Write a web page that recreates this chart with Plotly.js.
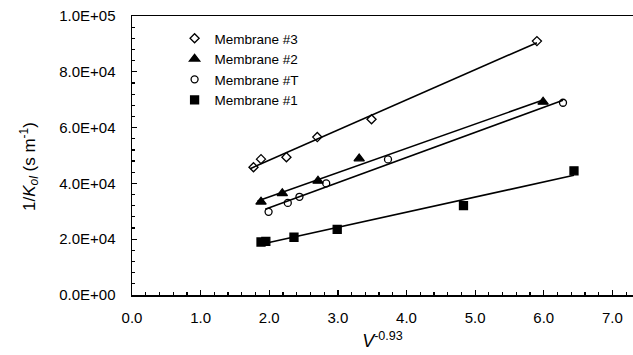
<!DOCTYPE html>
<html>
<head>
<meta charset="utf-8">
<script src="https://cdn.plot.ly/plotly-3.0.1.min.js"></script>
<style>html,body{margin:0;padding:0;background:#fff;}#chart{width:633px;height:355px;}</style>
</head>
<body>
<div id="chart"></div>
<script>
// Data
const seriesNames = ["Membrane #3", "Membrane #2", "Membrane #T", "Membrane #1"];
const m3_x = [1.77, 1.88, 2.25, 2.70, 3.49, 5.90];
const m3_y = [45800, 48700, 49400, 56600, 63000, 91000];
const m2_x = [1.88, 2.19, 2.71, 3.31, 5.99];
const m2_y = [33400, 36400, 40900, 48900, 69200];
const mT_x = [1.99, 2.27, 2.44, 2.83, 3.73, 6.28];
const mT_y = [29800, 33000, 35200, 40000, 48600, 68900];
const m1_x = [1.88, 1.95, 2.36, 2.99, 4.83, 6.44];
const m1_y = [19000, 19200, 20700, 23500, 32000, 44500];
const yTickVals = [0, 20000, 40000, 60000, 80000, 100000];
const yTickText = ["0.0E+00", "2.0E+04", "4.0E+04", "6.0E+04", "8.0E+04", "1.0E+05"];
const xTickVals = [0, 1, 2, 3, 4, 5, 6, 7];
const xTickText = ["0.0", "1.0", "2.0", "3.0", "4.0", "5.0", "6.0", "7.0"];

function fitLine(xs, ys) {
  const n = xs.length;
  const mx = xs.reduce((a, b) => a + b, 0) / n;
  const my = ys.reduce((a, b) => a + b, 0) / n;
  let sxy = 0, sxx = 0;
  for (let i = 0; i < n; i++) { sxy += (xs[i] - mx) * (ys[i] - my); sxx += (xs[i] - mx) ** 2; }
  const b = sxy / sxx, a = my - b * mx;
  const x0 = Math.min(...xs) - 0.05, x1 = Math.max(...xs);
  return { x: [x0, x1], y: [a + b * x0, a + b * x1] };
}

const series = [
  { name: seriesNames[0], x: m3_x, y: m3_y, symbol: "diamond-open", size: 7 },
  { name: seriesNames[1], x: m2_x, y: m2_y, symbol: "triangle-up", size: 9 },
  { name: seriesNames[2], x: mT_x, y: mT_y, symbol: "circle-open", size: 7 },
  { name: seriesNames[3], x: m1_x, y: m1_y, symbol: "square", size: 8 }
];

const traces = [];
series.forEach(s => {
  const f = fitLine(s.x, s.y);
  traces.push({ x: f.x, y: f.y, mode: "lines", line: { color: "#000", width: 1.6 }, showlegend: false, hoverinfo: "skip" });
});
series.forEach(s => {
  traces.push({
    x: s.x, y: s.y, mode: "markers", name: s.name, type: "scatter",
    marker: { symbol: s.symbol, size: s.size, color: "#000", line: { color: "#000", width: 1.3 } }
  });
});

const font = "'Liberation Sans', Arial, sans-serif";
const layout = {
  width: 633, height: 355,
  margin: { l: 132, r: 0, t: 16, b: 60 },
  paper_bgcolor: "#fff", plot_bgcolor: "#fff",
  font: { family: font, size: 15, color: "#000" },
  showlegend: true,
  legend: { x: 0.085, y: 0.975, xanchor: "left", yanchor: "top", bgcolor: "rgba(0,0,0,0)",
            font: { family: font, size: 13.5, color: "#000" }, tracegroupgap: 0, itemwidth: 30 },
  xaxis: {
    range: [0, 7.3], tickmode: "array", tickvals: xTickVals, ticktext: xTickText,
    ticks: "inside", ticklen: 5, tickwidth: 1.3, tickcolor: "#000",
    showline: true, linecolor: "#000", linewidth: 1.5, mirror: true,
    showgrid: false, zeroline: false, ticklabelstandoff: 8,
    minor: { dtick: 0.2, tick0: 0, ticks: "inside", ticklen: 3, tickwidth: 1.2, tickcolor: "#000", showgrid: false },
    title: { text: "<i>V</i><sup>-0.93</sup>", font: { size: 18, family: font }, standoff: 10 }
  },
  yaxis: {
    range: [0, 100000], tickmode: "array", tickvals: yTickVals, ticktext: yTickText,
    ticks: "inside", ticklen: 5, tickwidth: 1.3, tickcolor: "#000",
    showline: true, linecolor: "#000", linewidth: 1.5,
    showgrid: false, zeroline: false, ticklabelstandoff: 12,
    minor: { dtick: 4000, tick0: 0, ticks: "inside", ticklen: 3, tickwidth: 1.2, tickcolor: "#000", showgrid: false }
  },
  annotations: [{
    text: "1/<i>K</i><sub><i>ol</i></sub> (s m<sup>-1</sup>)",
    xref: "paper", yref: "paper", x: -0.205, y: 0.46, xanchor: "center", yanchor: "middle",
    textangle: -90, showarrow: false, font: { size: 17, family: font, color: "#000" }
  }]
};

Plotly.newPlot("chart", traces, layout, { displayModeBar: false, staticPlot: true });
</script>
</body>
</html>
